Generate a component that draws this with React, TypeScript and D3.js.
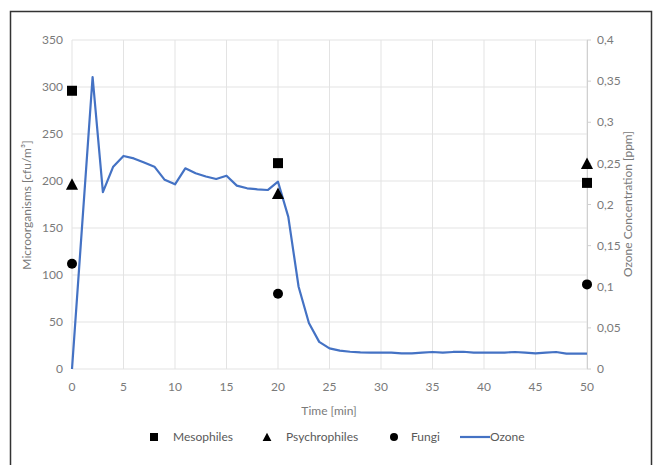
import React from 'react';
import * as d3 from 'd3';

const width = 656;
const height = 465;
const margin = { top: 40, right: 69, bottom: 96, left: 72 };

// ozone readings, minute by minute [ppm]
const ozoneTime = [0, 2, 3, 4, 5, 6, 7, 8, 9, 10, 11, 12, 13, 14, 15, 16, 17, 18, 19, 20,
    21, 22, 23, 24, 25, 26, 27, 28, 29, 30, 31, 32, 33, 34, 35, 36, 37, 38, 39, 40,
    41, 42, 43, 44, 45, 46, 47, 48, 49, 50];
const ozoneValues = [0, 0.355, 0.215, 0.246, 0.259, 0.256, 0.251, 0.246, 0.230, 0.2245,
    0.244, 0.238, 0.234, 0.231, 0.235, 0.223, 0.2197, 0.2185, 0.2176, 0.2277,
    0.185, 0.100, 0.056, 0.033, 0.025, 0.0223, 0.021, 0.0202, 0.020, 0.020,
    0.020, 0.019, 0.019, 0.0198, 0.0207, 0.0198, 0.0207, 0.021, 0.020, 0.020,
    0.020, 0.020, 0.0207, 0.0198, 0.019, 0.020, 0.0207, 0.0186, 0.0186, 0.0186];

// sampling times for microorganisms
const sampleTimes = [0, 20, 50];
const mesophiles = [296, 219, 198];
const psychrophiles = [196, 186, 218];
const fungi = [112, 80, 90];

const leftTicks = [0, 50, 100, 150, 200, 250, 300, 350];
const rightTicks = [0, 0.05, 0.1, 0.15, 0.2, 0.25, 0.3, 0.35, 0.4];
const timeTicks = [0, 5, 10, 15, 20, 25, 30, 35, 40, 45, 50];

const lineColor = '#4472c4';
const textColor = '#7a7a7a';
const gridColor = '#e3e3e3';
const font = 'Lato, "Open Sans", sans-serif';

const App = () => {
    const x = d3.scaleLinear().domain([0, 50]).range([margin.left, width - margin.right]);
    const yLeft = d3.scaleLinear().domain([0, 350]).range([height - margin.bottom, margin.top]);
    const yRight = d3.scaleLinear().domain([0, 0.4]).range([height - margin.bottom, margin.top]);

    const ozoneLine = d3.line<number>()
        .x((d, i) => x(ozoneTime[i]))
        .y(d => yRight(d));

    const fmt = (v: number) => String(v).replace('.', ',');
    const tri = (cx: number, cy: number, s: number) =>
        `M${cx},${cy - s * 0.6} L${cx + s * 0.55},${cy + s * 0.45} L${cx - s * 0.55},${cy + s * 0.45} Z`;

    const x0 = x(0);
    const x1 = x(50);
    const yBottom = yLeft(0);

    return (
        <svg width={width} height={height} style={{ position: 'absolute', left: 0, top: 0 }}
            fontFamily={font}>
            <rect x={0} y={0} width={width} height={height} fill="#fff" />
            <path d={`M10.5,${height + 5} V11.5 H651.5 V${height + 5}`} fill="none" stroke="#333" strokeWidth={1.5} />

            {/* grid */}
            {leftTicks.map(t => (
                <line key={'h' + t} x1={x0} x2={x1} y1={yLeft(t)} y2={yLeft(t)} stroke={gridColor} />
            ))}
            {timeTicks.map(t => (
                <line key={'v' + t} x1={x(t)} x2={x(t)} y1={margin.top} y2={yBottom} stroke={gridColor} />
            ))}
            <line x1={x1 + 0.5} x2={x1 + 0.5} y1={margin.top} y2={yBottom} stroke="#d0d0d0" />
            {rightTicks.map(t => (
                <line key={'rt' + t} x1={x1} x2={x1 + 4} y1={yRight(t)} y2={yRight(t)} stroke="#d0d0d0" />
            ))}

            {/* tick labels */}
            {leftTicks.map(t => (
                <text key={'l' + t} x={63} y={yLeft(t)} dy="0.35em" textAnchor="end" fontSize={12} fill={textColor}>{t}</text>
            ))}
            {rightTicks.map(t => (
                <text key={'r' + t} x={597} y={yRight(t)} dy="0.35em" textAnchor="start" fontSize={12} fill={textColor}>{fmt(t)}</text>
            ))}
            {timeTicks.map(t => (
                <text key={'x' + t} x={x(t)} y={391} textAnchor="middle" fontSize={12} fill={textColor}>{t}</text>
            ))}

            {/* axis titles */}
            <text transform="translate(31,205) rotate(-90)" textAnchor="middle" fontSize={12} fill={textColor}>
                Microorganisms [cfu/m³]
            </text>
            <text transform="translate(632,204) rotate(-90)" textAnchor="middle" fontSize={12} fill={textColor}>
                Ozone Concentration [ppm]
            </text>
            <text x={329} y={415} textAnchor="middle" fontSize={12} fill={textColor}>Time [min]</text>

            {/* ozone */}
            <path d={ozoneLine(ozoneValues) || ''} fill="none" stroke={lineColor} strokeWidth={2.2} strokeLinejoin="round" />

            {/* microorganisms */}
            {sampleTimes.map((t, i) => (
                <rect key={'m' + i} x={x(t) - 5} y={yLeft(mesophiles[i]) - 5} width={10} height={10} fill="#000" />
            ))}
            {sampleTimes.map((t, i) => (
                <path key={'p' + i} d={tri(x(t), yLeft(psychrophiles[i]), 11)} fill="#000" />
            ))}
            {sampleTimes.map((t, i) => (
                <circle key={'f' + i} cx={x(t)} cy={yLeft(fungi[i])} r={5} fill="#000" />
            ))}

            {/* legend */}
            <g fontSize={12} fill="#595959">
                <rect x={150} y={433} width={8} height={8} fill="#000" />
                <text x={173} y={441}>Mesophiles</text>
                <path d={tri(267, 437.5, 8)} fill="#000" />
                <text x={286} y={441}>Psychrophiles</text>
                <circle cx={394} cy={437} r={4} fill="#000" />
                <text x={411} y={441}>Fungi</text>
                <line x1={460} x2={490} y1={437} y2={437} stroke={lineColor} strokeWidth={2.2} />
                <text x={490} y={441}>Ozone</text>
            </g>
        </svg>
    );
};

export default App;
